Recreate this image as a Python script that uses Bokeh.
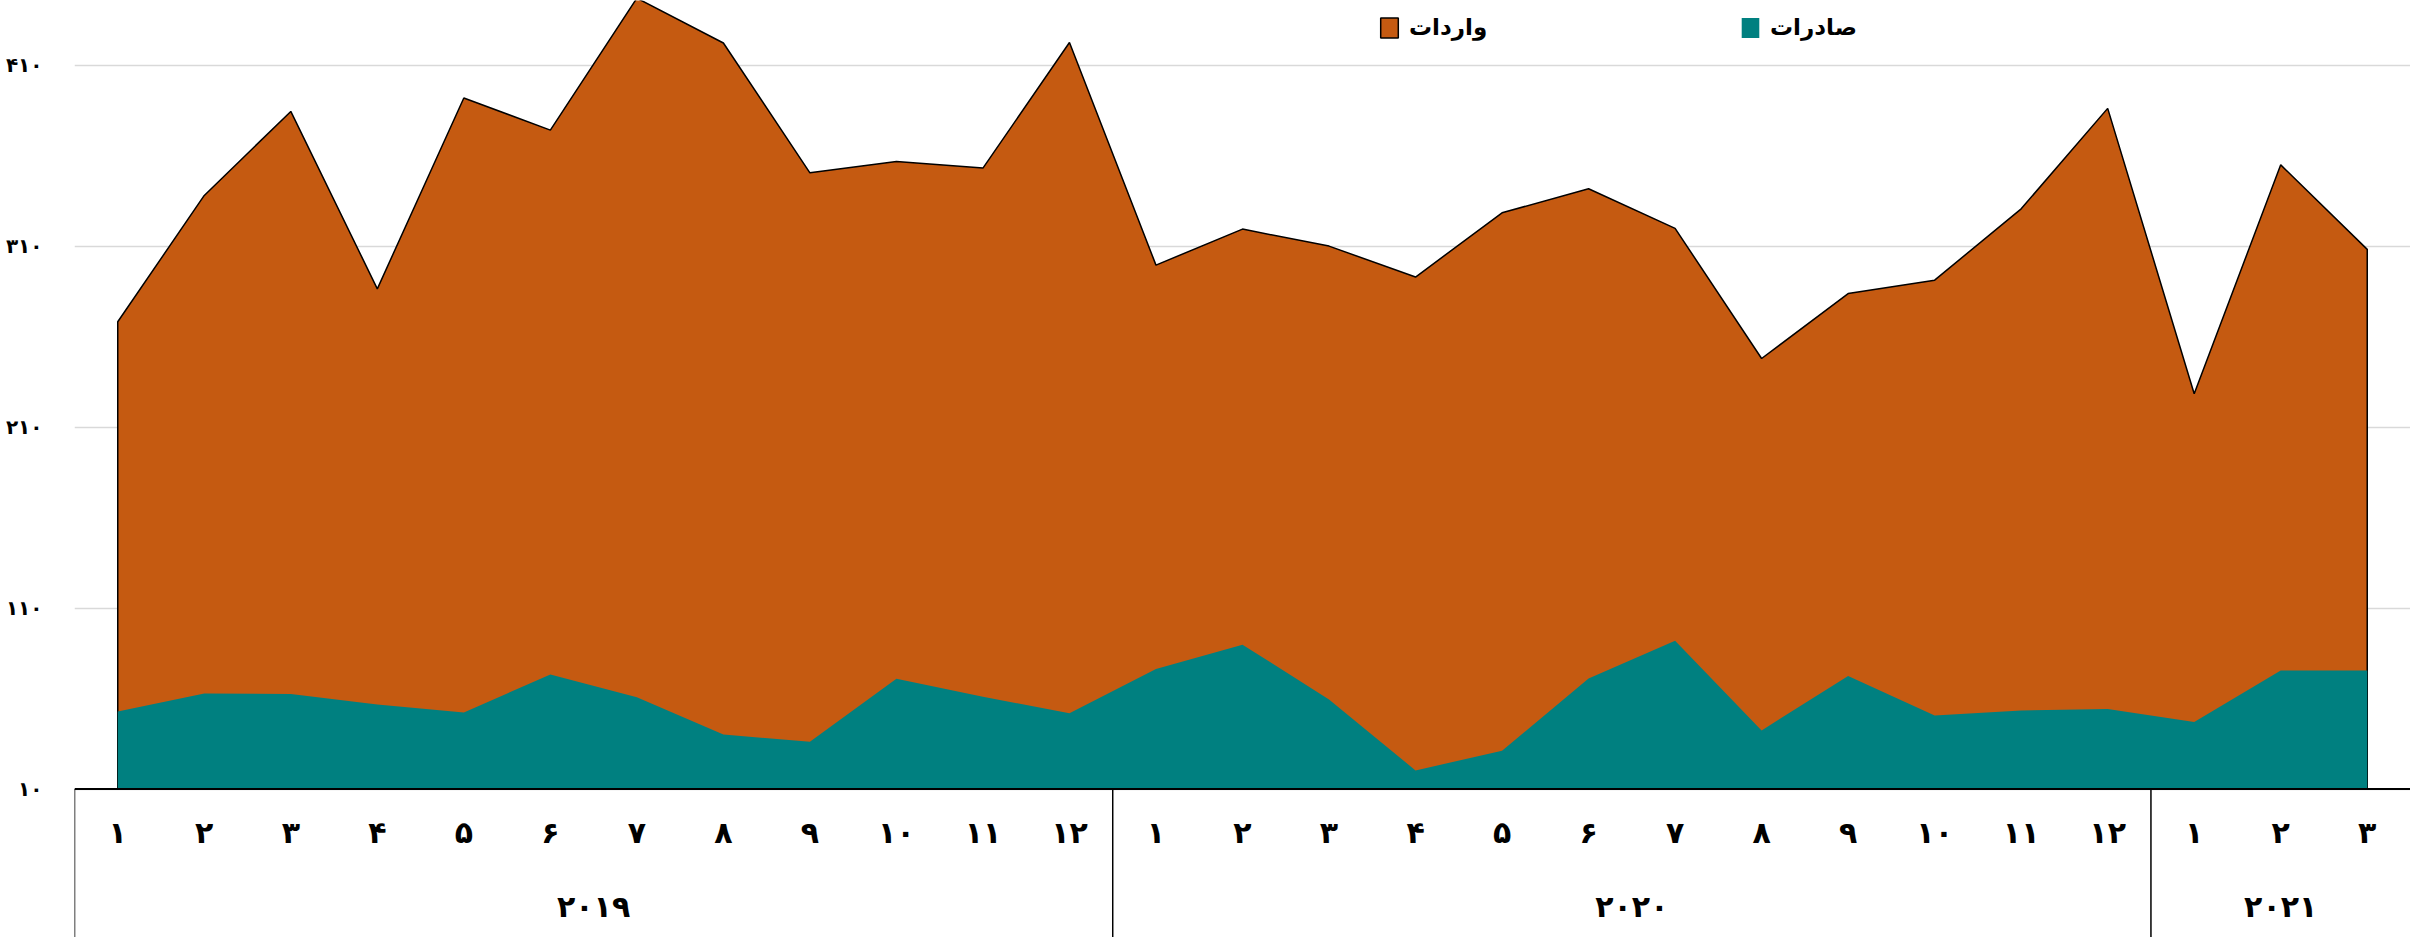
from bokeh.plotting import figure
from bokeh.models import FactorRange, Range1d, FixedTicker, Span, Legend, LegendItem
from bokeh.embed import file_html
from bokeh.resources import INLINE
from bokeh.core.properties import value

# ---------------- data ----------------
years = ["2019", "2020", "2021"]
year_labels = ["۲۰۱۹", "۲۰۲۰", "۲۰۲۱"]
months_per_year = [12, 12, 3]
month_labels = ["۱", "۲", "۳", "۴", "۵", "۶", "۷", "۸", "۹", "۱۰", "۱۱", "۱۲"]

series_names = ["واردات", "صادرات"]

imports = [268.2, 338.0, 384.4, 286.4, 391.8, 374.1, 447.0, 422.2, 350.5, 356.8, 353.1, 422.5,
           299.5, 319.4, 310.0, 292.9, 328.4, 341.7, 319.8, 247.9, 283.8, 291.2, 330.6, 386.1,
           228.4, 354.9, 308.2]
exports = [52.9, 62.8, 62.6, 56.7, 52.3, 73.3, 60.8, 40.2, 36.1, 70.9, 61.0, 51.9,
           76.4, 89.8, 59.5, 20.3, 31.2, 71.1, 92.0, 42.4, 72.5, 50.7, 53.4, 54.3,
           47.0, 75.5, 75.5]

y_ticks = [10, 110, 210, 310, 410]
y_tick_labels = ["۱۰", "۱۱۰", "۲۱۰", "۳۱۰", "۴۱۰"]

# ---------------- style ----------------
ORANGE = "#C55A11"
TEAL = "#008080"
GRID = "#D9D9D9"
FONT = value("DejaVu Sans")
BASE = 10

factors = [(y, str(m)) for y, n in zip(years, months_per_year) for m in range(1, n + 1)]
point_labels = [month_labels[int(m) - 1] for _, m in factors]

x_range = FactorRange(*factors, factor_padding=0, group_padding=0,
                      subgroup_padding=0, range_padding=0)
y_range = Range1d(-72.0, 445.7)

p = figure(width=2410, height=937, x_range=x_range, y_range=y_range,
           output_backend="svg", toolbar_location=None, x_axis_location=None,
           min_border_left=74, min_border_right=0, min_border_top=0, min_border_bottom=0)
p.outline_line_color = None
p.xgrid.visible = False
p.ygrid.grid_line_color = GRID
p.ygrid.grid_line_width = 1.5

yax = p.yaxis[0]
yax.ticker = FixedTicker(ticks=y_ticks)
yax.major_label_overrides = dict(zip(y_ticks, y_tick_labels))
yax.axis_line_color = None
yax.major_tick_line_color = None
yax.minor_tick_line_color = None
yax.major_label_standoff = 26
yax.major_label_text_font = "DejaVu Sans"
yax.major_label_text_font_style = "bold"
yax.major_label_text_font_size = "20px"
yax.major_label_text_color = "black"

# imports area (outlined)
px = [factors[0]] + factors + [factors[-1]]
py = [BASE] + imports + [BASE]
imp = p.patch(px, py, fill_color=ORANGE, line_color="black", line_width=1.5)

# exports area
exp = p.varea(x=factors, y1=BASE, y2=exports, fill_color=TEAL)

# baseline / axis box
p.add_layout(Span(location=BASE, dimension="width", line_color="black", line_width=2))
bx = [(y, "1", -0.5) for y in years]
p.segment(x0=bx, y0=BASE, x1=bx, y1=y_range.start, line_color="black", line_width=1.5)

# category labels
p.text(x=factors, y=-13.9, text=point_labels, text_font=FONT, text_font_style="bold",
       text_font_size="30px", text_align="center", text_baseline="middle", text_color="black")
p.text(x=years, y=-54.8, text=year_labels, text_font=FONT, text_font_style="bold",
       text_font_size="30px", text_align="center", text_baseline="middle", text_color="black")

# legends
for name, rend, loc in [(series_names[0], imp, (1304, 897)), (series_names[1], exp, (1665, 897))]:
    lg = Legend(items=[LegendItem(label=name, renderers=[rend])], location=loc)
    lg.padding = 0
    lg.margin = 0
    lg.border_line_color = None
    lg.background_fill_alpha = 0
    lg.glyph_width = 22
    lg.glyph_height = 25
    lg.label_height = 25
    lg.label_standoff = 9
    lg.label_text_font = "DejaVu Sans"
    lg.label_text_font_style = "bold"
    lg.label_text_font_size = "23px"
    lg.label_text_color = "black"
    p.add_layout(lg)

open("out.html", "w").write(file_html(p, INLINE))
